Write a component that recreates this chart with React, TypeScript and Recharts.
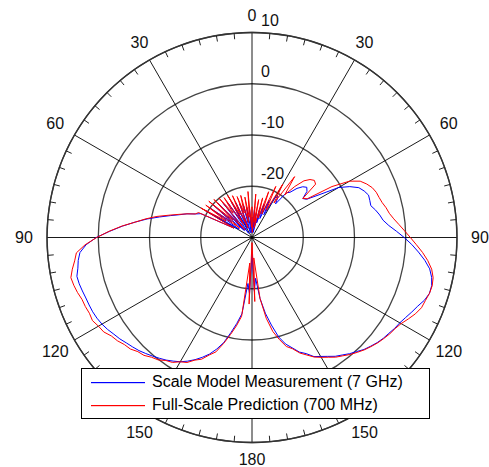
import { RadarChart, Radar, PolarGrid, PolarAngleAxis, PolarRadiusAxis } from "recharts";

// angle of each sample, degrees clockwise from the top (0 .. 357.5)
const angles = Array.from({ length: 144 }, (_, i) => i * 2.5);

// Full-Scale Prediction (700 MHz), dB, one row per 30 degrees
const redValues = [
  -24, -29, -21.5, -27, -22.5, -28, -22, -26, -20.5, -25, -19, -24,
  -18, -22, -15.5, -19.5, -17, -15, -14, -13.5, -13.8, -17.5, -16.8, -11.5,
  -8, -6.2, -5.3, -4.6, -4.2, -4.0, -3.7, -3.2, -2.8, -2.1, -1.2, -0.2,
  0.9, 2.1, 3.4, 4.6, 5.6, 6.2, 6.4, 6.3, 6.0, 5.8, 5.2, 4.4,
  3.6, 3.1, 2.8, 2.4, 2.0, 1.5, 1.0, 0.4, -0.2, -0.9, -1.5, -2.3,
  -3.0, -3.7, -4.7, -5.6, -6.9, -7.7, -9.4, -11.2, -14, -18, -26, -17.5,
  -29, -17, -25, -14.5, -12.5, -10.6, -8.6, -6.6, -5.6, -4.3, -3.6, -2.5,
  -2.0, -1.1, -0.7, 0.1, 0.5, 1.2, 1.5, 2.2, 2.5, 3.1, 3.5, 4.3,
  4.6, 5.1, 5.0, 5.2, 5.3, 5.7, 6.0, 6.2, 5.6, 4.9, 4.4, 2.6,
  0.3, -2.1, -4.5, -7, -9, -11, -13.2, -15, -16.5, -18, -18.5, -26,
  -18.5, -24, -19, -27, -19, -25, -19.5, -28, -20, -24, -20.5, -27,
  -20.5, -25, -21, -28, -21.5, -25, -21.5, -27, -22, -26, -21, -28,
];

// Scale Model Measurement (7 GHz), dB
const blueValues = [
  -26, -29, -24, -28, -25, -29, -24, -27, -23, -26, -22, -25,
  -21, -20.5, -22, -19, -18.5, -17, -16, -15.5, -16, -17.5, -17, -14.5,
  -10.5, -8.5, -7, -6.3, -5.8, -5.9, -6.0, -5.3, -4.7, -4.2, -3.2, -1.8,
  -0.3, 1.2, 2.6, 4.0, 5.2, 5.9, 6.3, 6.3, 5.8, 5.0, 4.4, 3.8,
  3.3, 3.0, 2.6, 2.3, 1.9, 1.4, 0.9, 0.2, -0.4, -1.1, -1.7, -2.5,
  -3.2, -3.8, -5.0, -5.8, -7.1, -8.2, -9.9, -12.5, -15, -18, -22, -19.5,
  -27, -19, -21, -15, -13, -11, -8.8, -7.2, -5.8, -4.7, -3.7, -2.8,
  -2.0, -1.4, -0.8, -0.3, 0.2, 0.7, 1.2, 1.6, 2.0, 2.5, 2.9, 3.4,
  3.8, 4.1, 4.3, 4.4, 4.5, 4.7, 4.9, 5.0, 4.5, 4.2, 3.7, 2.4,
  0.4, -2.2, -4.6, -7, -9.2, -11.5, -13.5, -15.2, -16.5, -18, -19, -26,
  -19.5, -27, -20, -25, -20, -28, -20.5, -26, -21, -29, -21.5, -26,
  -22, -28, -22.5, -27, -23, -29, -23.5, -27, -24, -29, -24, -28,
];

const radialTicks = [-30, -20, -10, 0, 10];
const spokeAngles = [0, 30, 60, 90, 120, 150, 180, 210, 240, 270, 300, 330];
const seriesNames = ["Scale Model Measurement (7 GHz)", "Full-Scale Prediction (700 MHz)"];
const seriesColors = ["#0000ff", "#ff0000"];

const data = angles.map((a, i) => ({ angle: a, blue: blueValues[i], red: redValues[i] }));

const W = 489;
const H = 467;
const CX = 252;
const CY = 237.5;
const R = 205;
const FONT = "'Liberation Sans', Arial, sans-serif";

const AngleTick = (props: any) => {
  const a = Number(props.payload.value);
  const t = (a * Math.PI) / 180;
  const sx = Math.sin(t);
  const sy = -Math.cos(t);
  if (a % 30 === 0) {
    const lr = R + 17 + 6 * Math.abs(sx);
    return (
      <text x={CX + lr * sx} y={CY + lr * sy} textAnchor="middle" dominantBaseline="central"
        fontSize={16} fontFamily={FONT} fill="#111">
        {a <= 180 ? a : 360 - a}
      </text>
    );
  }
  if (a % 5 === 0) {
    return (
      <line x1={CX + R * sx} y1={CY + R * sy} x2={CX + (R - 6) * sx} y2={CY + (R - 6) * sy}
        stroke="#222" strokeWidth={1} />
    );
  }
  return <g />;
};

const RadiusTick = (props: any) => {
  const v = props.payload.value;
  if (v <= -30) return <g />;
  return (
    <text x={props.x + 9} y={props.y - 7} textAnchor="start" fontSize={16} fontFamily={FONT} fill="#111">
      {v}
    </text>
  );
};

export default function App() {
  return (
    <div style={{ position: "relative", width: W, height: H, overflow: "hidden" }}>
      <style>{"body { margin: 0; }"}</style>
      <RadarChart width={W} height={H} data={data} cx={CX} cy={CY} outerRadius={R}
        margin={{ top: 0, right: 0, bottom: 0, left: 0 }}>
        <PolarGrid gridType="circle" radialLines={false} stroke="#444" strokeWidth={1.3}
          polarRadius={[R / 4, R / 2, (3 * R) / 4, R]} />
        <PolarGrid gridType="circle" radialLines polarRadius={[]} polarAngles={spokeAngles}
          stroke="#000" strokeWidth={0.9} />
        <PolarAngleAxis dataKey="angle" tick={AngleTick} tickLine={false}
          axisLine={{ stroke: "#333", strokeWidth: 1.3 }} />
        <PolarRadiusAxis angle={90} domain={[-30, 10]} ticks={radialTicks} tickCount={5}
          type="number" axisLine={false} tick={RadiusTick} />
        <Radar dataKey="blue" stroke={seriesColors[0]} strokeWidth={1} fill="none" fillOpacity={0}
          dot={false} isAnimationActive={false} />
        <Radar dataKey="red" stroke={seriesColors[1]} strokeWidth={1} fill="none" fillOpacity={0}
          dot={false} isAnimationActive={false} />
      </RadarChart>
      <div style={{
        position: "absolute", left: 81, top: 368, width: 349, height: 51, boxSizing: "border-box",
        border: "1px solid #000", background: "#fff", fontFamily: FONT, fontSize: 16, color: "#000",
      }}>
        {seriesNames.map((name, i) => (
          <div key={name} style={{ position: "absolute", left: 9, top: 3 + i * 23, height: 20,
            display: "flex", alignItems: "center", whiteSpace: "nowrap" }}>
            <svg width={54} height={20} style={{ marginRight: 7, display: "block" }}>
              <rect x={0} y={10} width={54} height={1.2} fill={seriesColors[i]} />
            </svg>
            <span>{name}</span>
          </div>
        ))}
      </div>
    </div>
  );
}
